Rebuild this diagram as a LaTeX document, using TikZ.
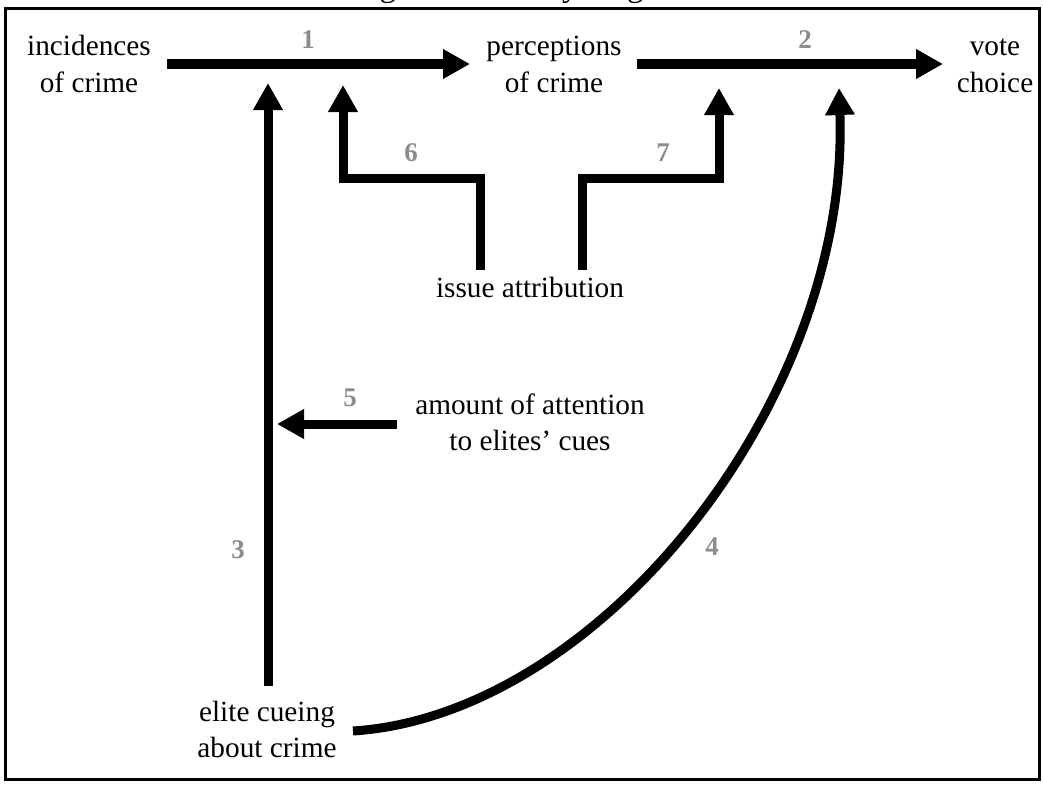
\documentclass[tikz,border=0pt]{standalone}
\usepackage{fontspec}
\setmainfont{Liberation Serif}
\usetikzlibrary{arrows.meta}
\definecolor{numgray}{RGB}{140,140,140}
\tikzset{
  txt/.style={align=center, font=\fontsize{29.3}{36}\selectfont, inner sep=0pt, anchor=base},
  num/.style={font=\fontsize{27}{32}\selectfont\bfseries, text=numgray, inner sep=0pt},
  arr/.style={line width=9pt, -{Triangle[width=28pt,length=27pt]}},
}
\begin{document}
\begin{tikzpicture}[x=1pt,y=-1pt]
\useasboundingbox (0,0) rectangle (1043,784);
\clip (0,0) rectangle (1043,784);
% cut-off title
\node[anchor=base west, inner sep=0pt, font=\fontsize{33}{40}\selectfont] (title) at (352,-3) {Figure 1: Theory diagram};
% frame
\draw[line width=3pt] (5.5,8.5) rectangle (1039.5,779.5);
% text nodes (anchor base = baseline of last line)
\node[txt] (inc) at (89,92) {incidences\\of crime};
\node[txt] (per) at (554,92) {perceptions\\of crime};
\node[txt] (vote) at (995,92) {vote\\choice};
\node[txt] (issue) at (530,297) {issue attribution};
\node[txt] (att) at (530,450) {amount of attention\\to elites' cues};
\node[txt] (elite) at (267,757) {elite cueing\\about crime};
% coordinates
\coordinate (a1s) at (167,64);
\coordinate (a1e) at (470,64);
\coordinate (a2s) at (637,64);
\coordinate (a2e) at (943,64);
\coordinate (a3s) at (268,686);
\coordinate (a3e) at (268,83);
\coordinate (a5s) at (397,424);
\coordinate (a5e) at (277,424);
\coordinate (a6s) at (480,270);
\coordinate (a6e) at (343,85);
\coordinate (a7s) at (582,270);
\coordinate (a7e) at (719,88);
\coordinate (a4s) at (353,731);
\coordinate (a4e) at (839,88);
% arrows
\draw[arr] (a1s) -- (a1e);
\draw[arr] (a2s) -- (a2e);
\draw[arr] (a3s) -- (a3e);
\draw[arr] (a5s) -- (a5e);
\draw[arr, line join=miter] (a6s) |- (343,178) -- (a6e);
\draw[arr, line join=miter] (a7s) |- (719,178) -- (a7e);
\draw[arr] (a4s) .. controls (600,715) and (850,400) .. (a4e);
% labels
\node[num] (n1) at (308,40) {1};
\node[num] (n2) at (805,40) {2};
\node[num] (n3) at (238,550) {3};
\node[num] (n4) at (712,547) {4};
\node[num] (n5) at (350,398) {5};
\node[num] (n6) at (411,153) {6};
\node[num] (n7) at (663,153) {7};
\end{tikzpicture}
\end{document}
